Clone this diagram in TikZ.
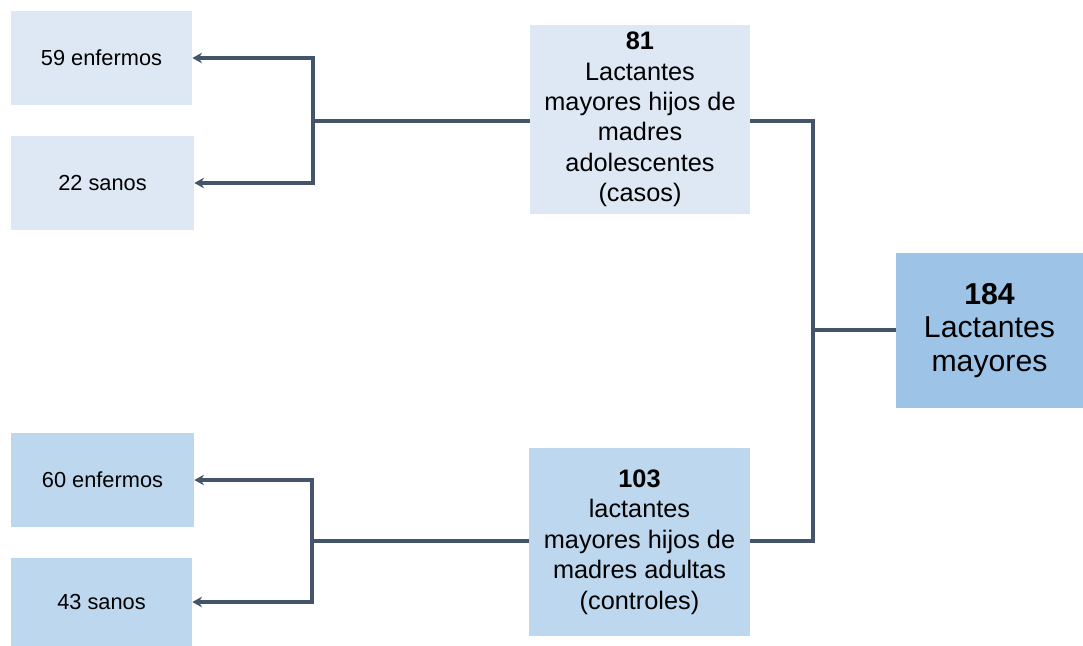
\documentclass[tikz,border=0pt]{standalone}
\usepackage{fontspec}
\setmainfont{Liberation Sans}
\usetikzlibrary{arrows.meta}
\definecolor{boxA}{HTML}{DDE8F4}
\definecolor{boxB}{HTML}{BDD7EE}
\definecolor{boxC}{HTML}{9DC3E6}
\definecolor{lineC}{HTML}{44546A}
\tikzset{
  leaf/.style={rectangle, inner sep=0pt, align=center, font=\fontsize{12.4}{15}\selectfont},
  mid/.style={rectangle, inner sep=0pt, align=center, font=\fontsize{14.4}{17.3}\selectfont},
  root/.style={rectangle, fill=boxC, inner sep=0pt, align=center, font=\fontsize{17.2}{19}\selectfont},
  conn/.style={draw=lineC, line width=2.1pt},
  arr/.style={conn, -{Stealth[length=5.5pt,width=6pt]}}
}
\begin{document}
\begin{tikzpicture}[x=0.02cm,y=-0.02cm]
\useasboundingbox (0,0) rectangle (1083,646);
% leaves
\node[leaf, fill=boxA, minimum width=3.62cm, minimum height=1.88cm] (e1) at (101.5,58) {59 enfermos};
\node[leaf, fill=boxA, minimum width=3.66cm, minimum height=1.88cm] (s1) at (102.5,183) {22 sanos};
\node[leaf, fill=boxB, minimum width=3.66cm, minimum height=1.90cm] (e2) at (102.5,480) {60 enfermos};
\node[leaf, fill=boxB, minimum width=3.62cm, minimum height=1.76cm] (s2) at (101.5,602) {43 sanos};
% middle
\node[mid, fill=boxA, minimum width=4.40cm, minimum height=3.78cm] (m1) at (640,119.5)
  {\textbf{81}\\Lactantes\\mayores hijos de\\madres\\adolescentes\\(casos)};
\node[mid, fill=boxB, minimum width=4.42cm, minimum height=3.76cm] (m2) at (639.5,542)
  {\textbf{103}\\lactantes\\mayores hijos de\\madres adultas\\(controles)};
% root
\node[root, minimum width=3.74cm, minimum height=3.10cm] (r) at (989.5,330.5)
  {\textbf{184}\\Lactantes\\mayores};
% coordinates
\coordinate (j1) at (313,121);
\coordinate (j2) at (312,541);
\coordinate (jr) at (813,330);
% connectors
\draw[conn] (m1.west |- j1) -- (j1);
\draw[arr] (j1) |- (e1.east);
\draw[arr] (j1) |- (s1.east);
\draw[conn] (m2.west |- j2) -- (j2);
\draw[arr] (j2) |- (e2.east);
\draw[arr] (j2) |- (s2.east);
\draw[conn] (m1.east |- j1) -| (jr) |- (m2.east |- j2);
\draw[conn] (jr) -- (jr -| r.west);
\end{tikzpicture}
\end{document}
